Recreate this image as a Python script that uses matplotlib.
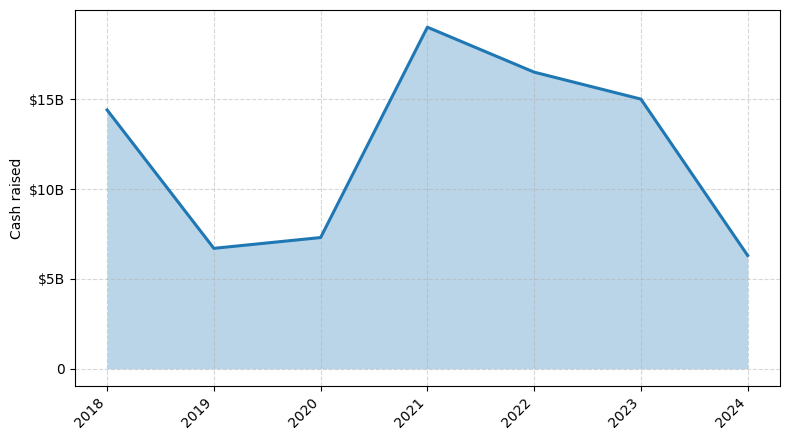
import matplotlib
matplotlib.use("Agg")
import matplotlib.pyplot as plt
from matplotlib.ticker import FuncFormatter

years = ["2018", "2019", "2020", "2021", "2022", "2023", "2024"]
cash_raised_b = [14.4, 6.7, 7.3, 19.0, 16.5, 15.0, 6.3]


def fmt_billions(v, pos):
    if v == 0:
        return "0"
    return f"${v:.0f}B"


fig, ax = plt.subplots(figsize=(7.9, 4.4), dpi=100)
x = list(range(len(years)))
ax.fill_between(x, cash_raised_b, color="#1f77b4", alpha=0.3, linewidth=0)
ax.plot(x, cash_raised_b, color="#1f77b4", linewidth=2.2)

ax.set_xticks(x)
ax.set_xticklabels(years, rotation=45, ha="right")
ax.set_yticks([0, 5, 10, 15])
ax.yaxis.set_major_formatter(FuncFormatter(fmt_billions))
ax.set_ylabel("Cash raised")
ax.set_ylim(-0.95, 19.95)
ax.grid(True, linestyle="--", alpha=0.5)

plt.subplots_adjust(left=0.095, right=0.987, top=0.977, bottom=0.123)
plt.savefig("out.png", dpi=100)
plt.close()
